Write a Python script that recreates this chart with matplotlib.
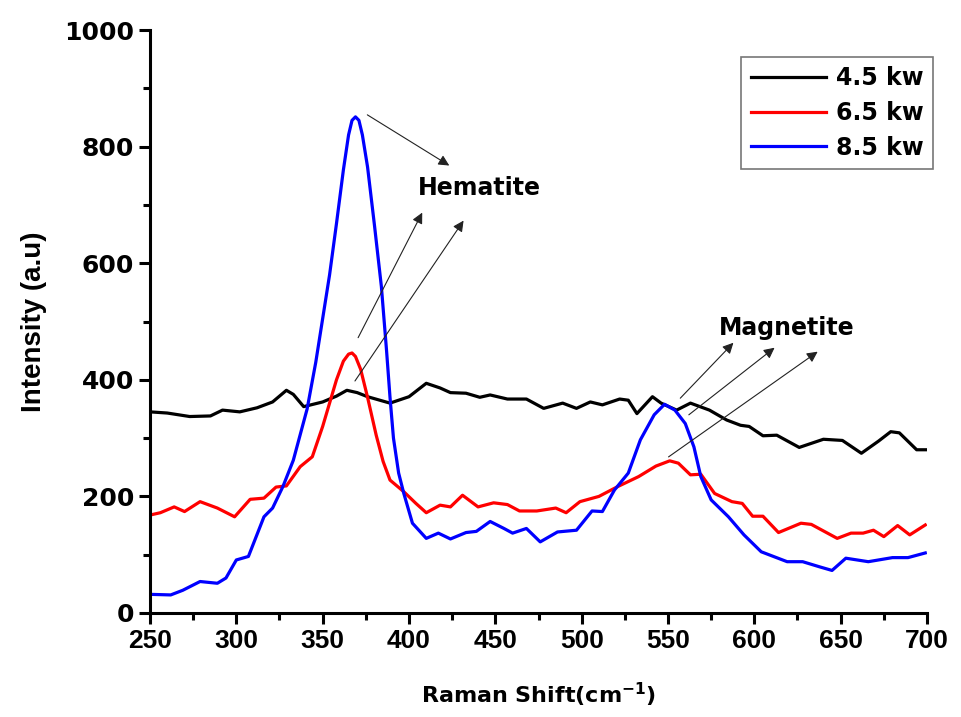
import matplotlib
matplotlib.use('Agg')
import matplotlib.pyplot as plt
from matplotlib.ticker import MultipleLocator
from matplotlib import font_manager

# Raman spectra
x_45 = [250, 260, 273, 285, 292, 302, 312, 321, 329, 333, 339, 350, 358, 364, 370, 376,
        389, 400, 410, 418, 424, 433, 441, 447, 457, 468, 478, 489, 497, 505, 512, 522,
        527, 532, 541, 546, 555, 563, 574, 584, 592, 597, 605, 613, 626, 640, 651, 662,
        672, 679, 684, 694, 700]
y_45 = [345, 343, 337, 338, 348, 345, 352, 362, 382, 375, 354, 362, 372, 382, 378, 371,
        360, 371, 394, 386, 378, 377, 370, 374, 367, 367, 351, 360, 351, 362, 357, 367,
        365, 342, 371, 360, 348, 360, 348, 331, 322, 320, 304, 305, 284, 298, 296, 274,
        295, 311, 309, 280, 280]

x_65 = [250, 256, 264, 270, 279, 289, 299, 308, 316, 323, 329, 337, 344, 350, 354, 358,
        362, 365, 367, 369, 372, 376, 381, 385, 389, 397, 404, 410, 418, 424, 431, 440,
        449, 457, 464, 474, 485, 491, 499, 510, 521, 533, 543, 551, 556, 563, 569, 577,
        587, 593, 599, 605, 614, 627, 633, 648, 656, 663, 669, 675, 683, 690, 699]
y_65 = [168, 172, 182, 174, 191, 180, 165, 195, 197, 216, 218, 251, 268, 320, 360, 400,
        432, 444, 446, 440, 418, 370, 305, 260, 228, 208, 188, 172, 185, 182, 202, 182,
        189, 186, 175, 175, 180, 172, 191, 200, 217, 234, 252, 261, 257, 237, 238, 205,
        191, 188, 166, 166, 138, 154, 152, 128, 137, 137, 142, 131, 150, 134, 151]

x_85 = [250, 262, 269, 279, 289, 294, 300, 307, 316, 321, 327, 333, 341, 346, 350, 354,
        358, 362, 365, 367, 369, 371, 373, 376, 380, 384, 387, 389, 391, 394, 397, 402,
        410, 417, 424, 433, 439, 447, 455, 460, 468, 476, 486, 497, 506, 512, 519, 527,
        534, 542, 548, 554, 560, 565, 569, 575, 585, 594, 604, 619, 628, 638, 645, 653,
        666, 680, 689, 699]
y_85 = [32, 31, 39, 54, 51, 60, 91, 97, 165, 180, 217, 262, 350, 430, 505, 580,
        668, 760, 820, 845, 851, 845, 820, 765, 665, 560, 450, 370, 300, 240, 205, 154,
        128, 137, 127, 138, 140, 157, 145, 137, 145, 122, 139, 142, 175, 174, 211, 240,
        297, 340, 358, 348, 325, 285, 234, 194, 165, 134, 105, 88, 88, 79, 73, 94,
        88, 95, 95, 103]

labels = ['4.5 kw', '6.5 kw', '8.5 kw']
colours = ['black', 'red', 'blue']

# annotation arrows: (start, end) in data coordinates
hem_arrows = [((374.5, 857), (424.7, 765)),
              ((369.8, 468), (408.4, 691)),
              ((367.8, 394), (432.5, 677))]
mag_arrows = [((556, 365), (589, 467)),
              ((560.8, 337), (613, 458)),
              ((549, 265), (638, 451))]

names = {f.name for f in font_manager.fontManager.ttflist}
narrow = 'Liberation Sans Narrow' if 'Liberation Sans Narrow' in names else 'Liberation Sans'

fig = plt.figure(figsize=(9.62, 7.17), dpi=100)
ax = fig.add_axes([150/962, 104/717, 777/962, 583/717])

for xs, ys, lab, c in zip([x_45, x_65, x_85], [y_45, y_65, y_85], labels, colours):
    ax.plot(xs, ys, '-', color=c, lw=2.3, label=lab)

for (x0, y0), (x1, y1) in hem_arrows + mag_arrows:
    ax.annotate('', xy=(x1, y1), xytext=(x0, y0),
                arrowprops=dict(arrowstyle='-|>', color='#222222', lw=0.8,
                                mutation_scale=16))

ax.text(441, 729, 'Hematite', fontsize=17, fontweight='bold', ha='center', va='center',
        family='DejaVu Sans')
ax.text(619, 489, 'Magnetite', fontsize=17, fontweight='bold', ha='center', va='center',
        family='DejaVu Sans')

ax.set_xlim(250, 700)
ax.set_ylim(0, 1000)
ax.xaxis.set_major_locator(MultipleLocator(50))
ax.xaxis.set_minor_locator(MultipleLocator(25))
ax.yaxis.set_major_locator(MultipleLocator(200))
ax.yaxis.set_minor_locator(MultipleLocator(100))

for s in ['top', 'right']:
    ax.spines[s].set_visible(False)
for s in ['left', 'bottom']:
    ax.spines[s].set_linewidth(2.2)
ax.tick_params(which='major', direction='out', length=8, width=2.2)
ax.tick_params(which='minor', direction='out', length=5, width=2.2)

for t in ax.get_xticklabels():
    t.set_family(narrow)
    t.set_fontweight('bold')
    t.set_fontsize(19)
for t in ax.get_yticklabels():
    t.set_family('DejaVu Sans')
    t.set_fontweight('bold')
    t.set_fontsize(18)

ax.set_xlabel('Raman Shift(cm$^{\\mathbf{-1}}$)', fontsize=16, fontweight='bold',
              family='DejaVu Sans', labelpad=20)
ax.set_ylabel('Intensity (a.u)', fontsize=20, fontweight='bold', family=narrow, labelpad=12)

leg = ax.legend(loc='upper right', bbox_to_anchor=(933/962, (717-57)/717),
                bbox_transform=fig.transFigure, fancybox=False, borderaxespad=0,
                handlelength=3.2, handletextpad=0.4, labelspacing=0.45,
                prop=dict(family='DejaVu Sans', weight='bold', size=17))
leg.get_frame().set_edgecolor('#555555')
leg.get_frame().set_linewidth(1.2)

fig.savefig('out.png', dpi=100)
